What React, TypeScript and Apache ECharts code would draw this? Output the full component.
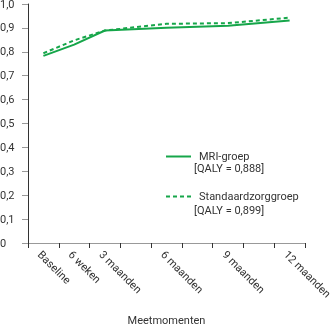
import React, { useEffect, useRef } from "react";
import * as echarts from "echarts";

const categories = ["Baseline", "6 weken", "3 maanden", "", "6 maanden", "", "9 maanden", "", "12 maanden"];
const mriValues = [0.783, 0.83, 0.889, null, 0.901, null, 0.909, null, 0.931];
const standaardValues = [0.794, 0.848, 0.889, null, 0.917, null, 0.92, null, 0.943];
const seriesNames = ["MRI-groep", "Standaardzorggroep"];
const qalyLabels = ["[QALY = 0,888]", "[QALY = 0,899]"];
const yTicks = [0, 0.1, 0.2, 0.3, 0.4, 0.5, 0.6, 0.7, 0.8, 0.9, 1.0];

const GREEN = "#16a64a";
const TEXT = "#333333";
const FONT = "Roboto";

export default function App() {
  const ref = useRef<HTMLDivElement>(null);
  useEffect(() => {
    if (!ref.current) return;
    const chart = echarts.init(ref.current, undefined, { renderer: "svg" });
    chart.setOption({
      animation: false,
      textStyle: { fontFamily: FONT, color: TEXT },
      grid: { left: 28, right: 25, top: 4, bottom: 82, containLabel: false, outerBoundsMode: "none" },
      legend: {
        left: 160,
        top: 146,
        orient: "vertical",
        itemWidth: 25,
        itemHeight: 2,
        itemGap: 29,
        itemStyle: { opacity: 0 },
        data: seriesNames,
        textStyle: { fontFamily: FONT, fontSize: 11, color: TEXT, padding: [0, 0, 0, 3] },
      },
      graphic: [
        { type: "text", left: 194, top: 163, style: { text: qalyLabels[0], fontFamily: FONT, fontSize: 11, fill: TEXT } },
        { type: "text", left: 194, top: 205, style: { text: qalyLabels[1], fontFamily: FONT, fontSize: 11, fill: TEXT } },
      ],
      xAxis: {
        type: "category",
        data: categories,
        boundaryGap: true,
        name: "Meetmomenten",
        nameLocation: "middle",
        nameGap: 72,
        nameTextStyle: { fontFamily: FONT, fontSize: 11, color: TEXT },
        axisLine: { lineStyle: { color: "#999999", width: 1 } },
        axisTick: { show: true, length: 5, lineStyle: { color: "#333333" }, interval: 0 },
        axisLabel: {
          rotate: -45,
          interval: 0,
          fontFamily: FONT,
          fontSize: 11,
          color: TEXT,
          margin: 6,
          verticalAlign: "top",
        },
      },
      yAxis: {
        type: "value",
        min: 0,
        max: 1,
        interval: 0.1,
        axisLine: { show: true, lineStyle: { color: "#333333", width: 1 } },
        axisTick: { show: true, length: 6, lineStyle: { color: "#999999" } },
        splitLine: { show: false },
        axisLabel: {
          align: "left",
          margin: 28,
          fontFamily: FONT,
          fontSize: 11,
          color: TEXT,
          formatter: (v: number) => {
            const t = yTicks.find((x) => Math.abs(x - v) < 1e-6);
            const val = t === undefined ? v : t;
            if (val === 0) return "0";
            return val.toFixed(1).replace(".", ",");
          },
        },
      },
      series: [
        {
          name: seriesNames[0],
          type: "line",
          data: mriValues,
          connectNulls: true,
          symbol: "none",
          lineStyle: { color: GREEN, width: 2 },
          itemStyle: { color: GREEN },
        },
        {
          name: seriesNames[1],
          type: "line",
          data: standaardValues,
          connectNulls: true,
          symbol: "none",
          lineStyle: { color: GREEN, width: 2, type: [4, 3] },
          itemStyle: { color: GREEN },
        },
      ],
    });
    return () => chart.dispose();
  }, []);
  return <div ref={ref} style={{ position: "fixed", left: 0, top: 0, width: 330, height: 325 }} />;
}
